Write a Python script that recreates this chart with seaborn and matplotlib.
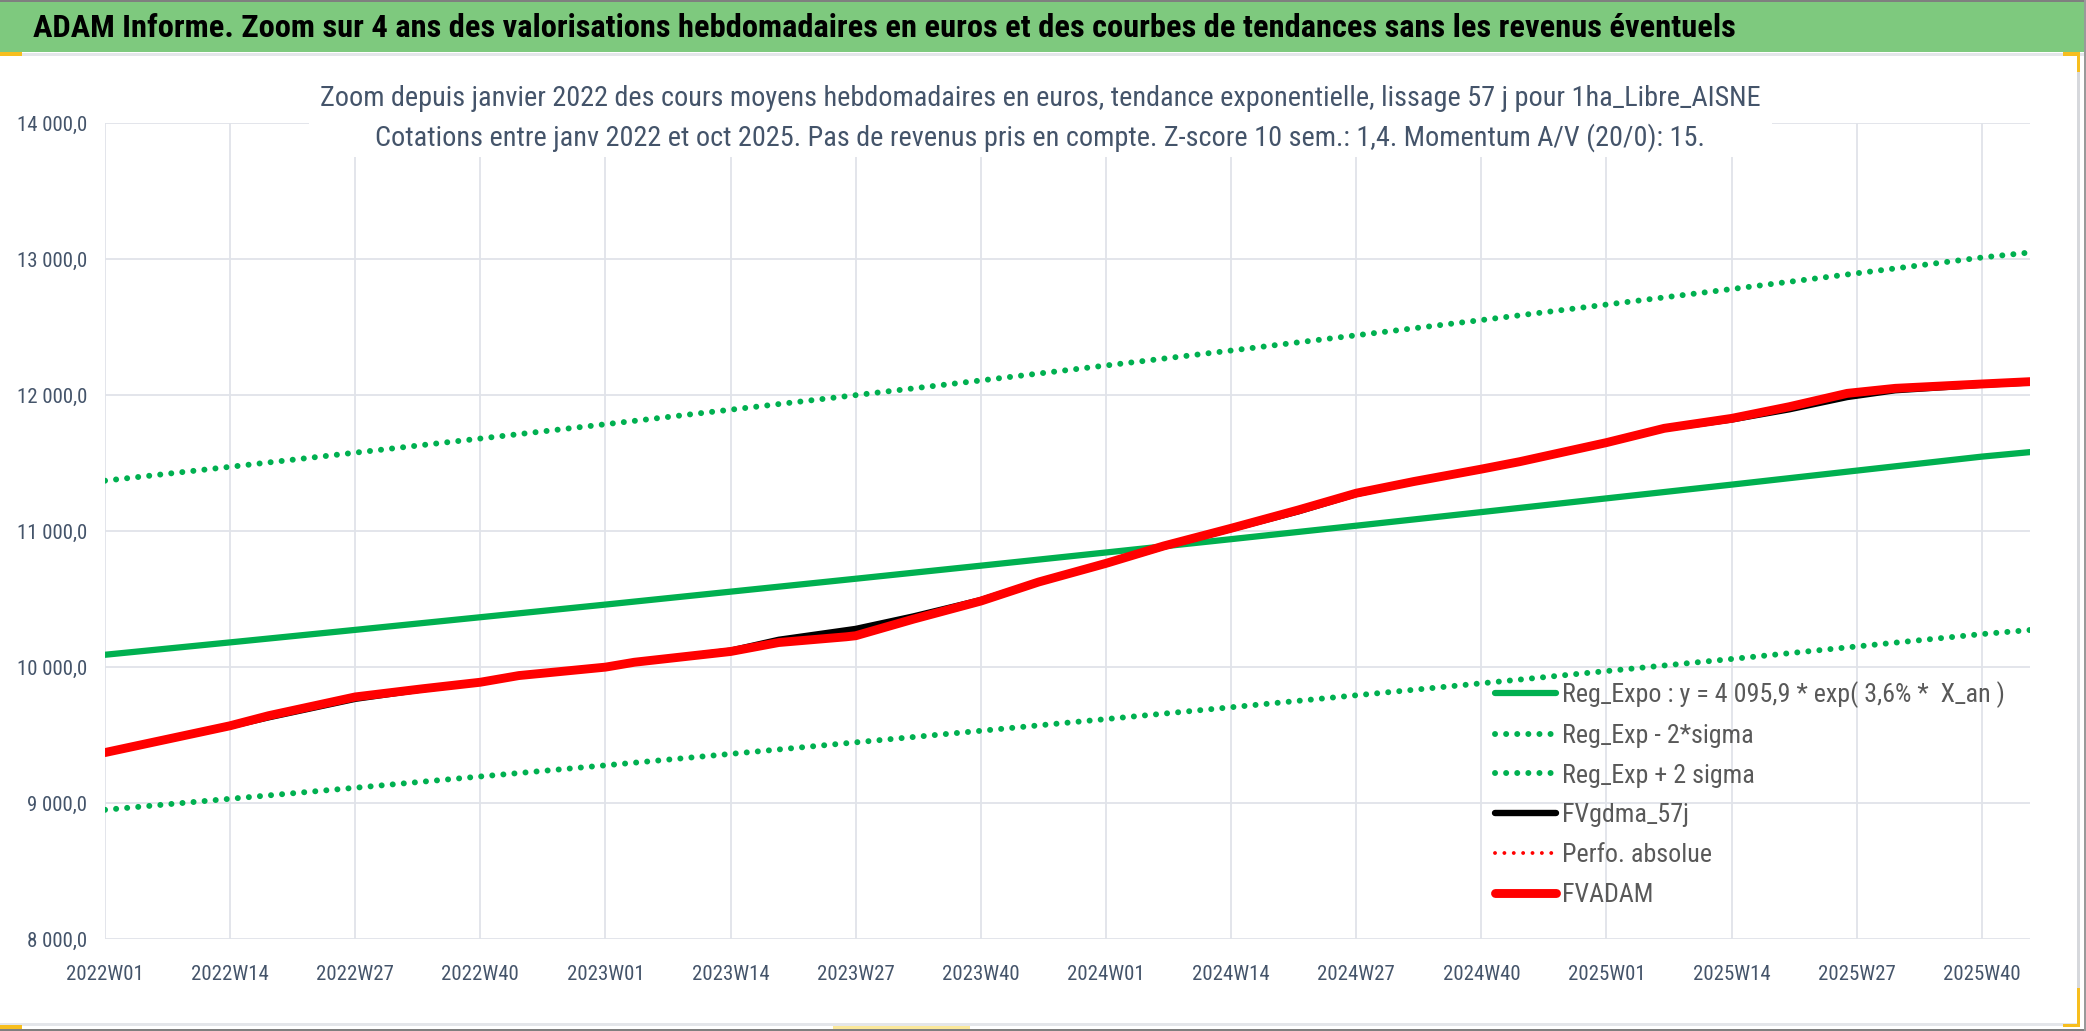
import pandas as pd
import seaborn as sns
import matplotlib.pyplot as plt
from matplotlib import font_manager
from matplotlib.patches import Rectangle
from matplotlib.ticker import FuncFormatter

# weeks counted from 2022W01 (index 0)
trend_weeks = [0, 13, 26, 39, 52, 65, 78, 91, 104, 117, 130, 143, 156, 169, 182, 195, 200]
reg_expo = [10090, 10181, 10273, 10366, 10459, 10554, 10649, 10745, 10842, 10940,
            11039, 11139, 11240, 11341, 11444, 11547, 11580]
reg_low = [8950, 9031, 9112, 9195, 9277, 9361, 9446, 9531, 9617, 9704,
           9792, 9880, 9970, 10059, 10151, 10242, 10272]
reg_high = [11370, 11472, 11576, 11680, 11785, 11892, 11999, 12107, 12217, 12327,
            12439, 12551, 12665, 12779, 12895, 13011, 13048]

curve_weeks = [0, 13, 17, 26, 33, 39, 43, 52, 55, 65, 70, 77, 78, 84, 91, 97, 104, 110,
               117, 124, 130, 136, 143, 147, 156, 162, 169, 175, 181, 186, 195, 200]
fvadam = [9371, 9568, 9642, 9780, 9840, 9888, 9937, 9999, 10035, 10114, 10180, 10222,
          10230, 10352, 10485, 10625, 10762, 10890, 11020, 11155, 11278, 11364, 11455,
          11510, 11650, 11755, 11828, 11914, 12012, 12049, 12081, 12098]
fvgdma = [9371, 9565, 9630, 9766, 9836, 9886, 9935, 9999, 10033, 10120, 10200, 10270,
          10280, 10372, 10492, 10625, 10760, 10885, 11015, 11145, 11272, 11362, 11452,
          11508, 11648, 11752, 11820, 11895, 11985, 12035, 12076, 12092]
# hidden under FVADAM in the picture
perfo_absolue = [9371, 9568, 9642, 9780, 9840, 9888, 9937, 9999, 10035, 10114, 10180, 10222,
                 10230, 10352, 10485, 10625, 10762, 10890, 11020, 11155, 11278, 11364, 11455,
                 11510, 11650, 11755, 11828, 11914, 12012, 12049, 12081, 12098]

tick_weeks = [0, 13, 26, 39, 52, 65, 78, 91, 104, 117, 130, 143, 156, 169, 182, 195]
tick_labels = ['2022W01', '2022W14', '2022W27', '2022W40', '2023W01', '2023W14',
               '2023W27', '2023W40', '2024W01', '2024W14', '2024W27', '2024W40',
               '2025W01', '2025W14', '2025W27', '2025W40']

title = ('ADAM Informe. Zoom sur 4 ans des valorisations hebdomadaires en euros '
         'et des courbes de tendances sans les revenus éventuels')
sub1 = ('Zoom depuis janvier 2022 des cours moyens hebdomadaires en euros, tendance '
        'exponentielle, lissage 57 j pour 1ha_Libre_AISNE')
sub2 = ('Cotations entre janv 2022 et oct 2025. Pas de revenus pris en compte. '
        'Z-score 10 sem.: 1,4. Momentum A/V (20/0): 15.')

GREEN = '#00B050'
GRID = '#E0E3E9'
SLATE = '#44546A'
GOLD = '#F7BE1E'

sns.set_style('white')
names = {f.name for f in font_manager.fontManager.ttflist}
narrow = next((n for n in ['Roboto Condensed', 'Liberation Sans Narrow'] if n in names), None)
if narrow:
    plt.rcParams['font.family'] = [narrow, 'DejaVu Sans']
else:
    plt.rcParams['font.family'] = ['DejaVu Sans']
    plt.rcParams['font.stretch'] = 'condensed'

W, H = 2086, 1031
fig = plt.figure(figsize=(W / 100, H / 100), dpi=100)
ax = fig.add_axes([105 / W, 1 - 939 / H, (2030 - 105) / W, (939 - 123) / H])

trend = pd.DataFrame({'week': trend_weeks, 'expo': reg_expo, 'low': reg_low, 'high': reg_high})
curves = pd.DataFrame({'week': curve_weeks, 'fvadam': fvadam, 'fvgdma': fvgdma,
                       'perfo': perfo_absolue})

green_dots = dict(linestyle=(0, (0.01, 1.85)), dash_capstyle='round')
red_dots = dict(linestyle=(0, (0.01, 2.4)), dash_capstyle='round')
sns.lineplot(data=trend, x='week', y='expo', ax=ax, color=GREEN, linewidth=4.5,
             solid_capstyle='round', label='Reg_Expo : y = 4 095,9 * exp( 3,6% *  X_an )')
sns.lineplot(data=trend, x='week', y='low', ax=ax, color=GREEN, linewidth=4.3,
             label='Reg_Exp - 2*sigma', **green_dots)
sns.lineplot(data=trend, x='week', y='high', ax=ax, color=GREEN, linewidth=4.3,
             label='Reg_Exp + 2 sigma', **green_dots)
sns.lineplot(data=curves, x='week', y='fvgdma', ax=ax, color='black', linewidth=4.6,
             solid_capstyle='round', label='FVgdma_57j')
sns.lineplot(data=curves, x='week', y='perfo', ax=ax, color='#FF0000', linewidth=2.8,
             label='Perfo. absolue', **red_dots)
sns.lineplot(data=curves, x='week', y='fvadam', ax=ax, color='#FF0000', linewidth=6.4,
             solid_capstyle='round', label='FVADAM')

ax.set_xlim(0, 200)
ax.set_ylim(8000, 14000)
ax.set_yticks(range(8000, 14001, 1000))
ax.yaxis.set_major_formatter(FuncFormatter(
    lambda v, p: f'{v:,.1f}'.replace(',', ' ').replace('.', ',')))
ax.set_xticks(tick_weeks)
ax.set_xticklabels(tick_labels)
ax.set_xlabel('')
ax.set_ylabel('')
ax.grid(True, color=GRID, linewidth=1.3)
ax.set_axisbelow(True)
for s in ax.spines.values():
    s.set_visible(False)
ax.tick_params(axis='x', length=4.5, width=1.3, color=GRID, pad=14, labelsize=15,
               labelcolor=SLATE)
ax.tick_params(axis='y', length=0, pad=13, labelsize=15, labelcolor=SLATE)

leg = ax.legend(loc='upper left', bbox_to_anchor=(1495 / W, 1 - 681 / H),
                bbox_transform=fig.transFigure, frameon=False, fontsize=18.7,
                handlelength=2.35, handletextpad=0.23, labelspacing=0.61,
                borderpad=0, borderaxespad=0)
for t in leg.get_texts():
    t.set_color('#595959')


def band(x0, y0, x1, y1, color):
    # rectangle given in pixel coordinates from the top-left corner
    fig.patches.append(Rectangle((x0 / W, 1 - y1 / H), (x1 - x0) / W, (y1 - y0) / H,
                                 transform=fig.transFigure, facecolor=color,
                                 edgecolor='none', zorder=1))


# title band and frame of the screenshot
band(0, 0, W, 52, '#7EC97E')
band(0, 53, W, 56, '#E4E6EA')
band(0, 0, W, 2, '#7F7F7F')
band(2077, 56, 2080, 1027, '#D6D8DC')
band(0, 1023, 2077, 1026, '#E4E6EA')
band(0, 1029, W, H, '#7F7F7F')
band(W - 2, 0, W, H, '#9A9A9A')
# selection handles left by the screenshot
band(0, 52, 22, 56, GOLD)
band(2063, 52, 2080, 56, GOLD)
band(2077, 52, 2080, 72, GOLD)
band(0, 1025, 22, 1029, GOLD)
band(833, 1026, 970, 1029, '#FBE89A')
band(2063, 1024, 2080, 1027, GOLD)
band(2077, 988, 2080, 1027, GOLD)
# white block behind the chart title
band(309, 77, 1772, 157, 'white')

fig.text(33 / W, 1 - 28 / H, title, ha='left', va='center', fontsize=23.4,
         fontweight='bold', color='black')
fig.text(1040 / W, 1 - 99 / H, sub1, ha='center', va='center', fontsize=20.3, color=SLATE)
fig.text(1040 / W, 1 - 138 / H, sub2, ha='center', va='center', fontsize=20.3, color=SLATE)

fig.savefig('out.png', dpi=100)
